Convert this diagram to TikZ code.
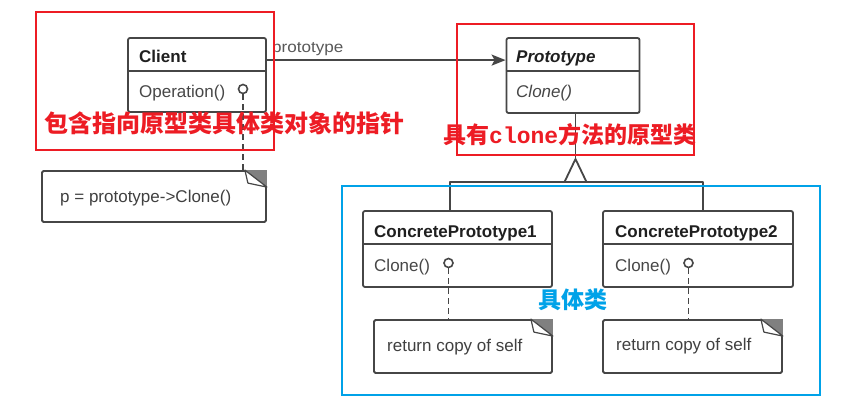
\documentclass[tikz,border=0pt]{standalone}
\usepackage{fontspec}
\usetikzlibrary{arrows.meta}
\newfontfamily\uml{Liberation Sans}
\newfontfamily\umlmono{Liberation Mono}
\newfontfamily\cjk{Noto Sans CJK SC}
\definecolor{linec}{RGB}{70,70,70}
\definecolor{annred}{RGB}{237,28,36}
\definecolor{annblue}{RGB}{0,162,232}
\newcommand\dogear[1]{%
  \fill[black!50] (#1.north east) -- ([xshift=-22pt]#1.north east) -- ([yshift=-17pt]#1.north east) -- cycle;
  \draw[linec, line width=1.2pt, fill=white, line join=round] ([xshift=-22pt]#1.north east) -- ([xshift=-19pt,yshift=-13pt]#1.north east) -- ([yshift=-17pt]#1.north east) -- cycle;
}
\begin{document}
\begin{tikzpicture}[x=1pt,y=-1pt,
  cls/.style={draw=linec, line width=1.8pt, rounded corners=2pt, inner sep=0pt, fill=white},
  clsname/.style={anchor=base west, inner sep=0pt, font=\uml\bfseries\fontsize{17}{17}\selectfont, text=black!88},
  meth/.style={anchor=base west, inner sep=0pt, font=\uml\fontsize{17}{17}\selectfont, text=black!72},
  notebox/.style={draw=linec, line width=1.8pt, rounded corners=1.5pt, inner sep=0pt, fill=white},
  notetxt/.style={anchor=base west, inner sep=0pt, font=\uml\fontsize{17}{17}\selectfont, text=black!75},
  assoclabel/.style={anchor=base west, inner sep=0pt, font=\uml\fontsize{15.5}{15.5}\selectfont, text=black!65, xscale=1.1},
  lolli/.style={circle, draw=linec, line width=1.6pt, minimum size=9pt, inner sep=0pt, fill=white},
  dep/.style={draw=linec, line width=1.8pt, dash pattern=on 6pt off 4pt},
  umlline/.style={draw=linec, line width=1.8pt},
  redbox/.style={draw=annred, line width=2.6pt, inner sep=0pt},
  bluebox/.style={draw=annblue, line width=2.6pt, inner sep=0pt},
  redlbl/.style={anchor=west, inner sep=0pt, text=annred, font=\cjk\bfseries\fontsize{24}{24}\selectfont},
  bluelbl/.style={inner sep=0pt, text=annblue, font=\cjk\bfseries\fontsize{23}{23}\selectfont}
]
\useasboundingbox (0,0) rectangle (855,401);
\fill[white] (0,0) rectangle (855,401);

% Client
\node[cls, minimum width=138pt, minimum height=74pt] (client) at (197,75) {};
\draw[umlline] ([yshift=-34pt]client.north west) -- ([yshift=-34pt]client.north east);
\node[clsname] (clientname) at (139,63) {Client};
\node[meth] (clientop) at (139,98) {Operation()};
\node[lolli] (lc) at (243,89) {};

% Prototype
\node[cls, minimum width=133pt, minimum height=75pt] (proto) at (573,75.5) {};
\draw[umlline] ([yshift=-34pt]proto.north west) -- ([yshift=-34pt]proto.north east);
\node[clsname, font=\uml\bfseries\itshape\fontsize{17}{17}\selectfont] (protoname) at (516,63) {Prototype};
\node[meth, font=\uml\itshape\fontsize{17}{17}\selectfont] (protoop) at (516,98) {Clone()};

% association
\draw[umlline, -{Stealth[length=14pt,width=11pt,inset=3pt]}] ([yshift=-23pt]client.north east) -- ([yshift=-23pt]proto.north west);
\node[assoclabel] (plabel) at (272,53) {prototype};

% Concrete prototypes
\node[cls, minimum width=189pt, minimum height=76pt] (cp1) at (457.5,249) {};
\draw[umlline] ([yshift=-34pt]cp1.north west) -- ([yshift=-34pt]cp1.north east);
\node[clsname] (cp1name) at (374,237) {ConcretePrototype1};
\node[meth] (cp1op) at (374,272) {Clone()};
\node[lolli] (l1) at (448.5,263) {};

\node[cls, minimum width=190pt, minimum height=76pt] (cp2) at (698,249) {};
\draw[umlline] ([yshift=-34pt]cp2.north west) -- ([yshift=-34pt]cp2.north east);
\node[clsname] (cp2name) at (615,237) {ConcretePrototype2};
\node[meth] (cp2op) at (615,272) {Clone()};
\node[lolli] (l2) at (688.5,263) {};

% generalization
\coordinate (apex) at (575.5,159);
\coordinate (j1) at (450,182);
\coordinate (j2) at (703,182);
\draw[umlline] ([xshift=2.5pt]proto.south) -- (apex);
\draw[umlline, line join=round] (j1 |- cp1.north) -- (j1) -- (j2) -- (j2 |- cp2.north);
\draw[umlline, fill=white, line join=round] (apex) -- (564.5,182) -- (586.5,182) -- cycle;

% notes
\node[notebox, minimum width=224pt, minimum height=51pt] (n1) at (154,196.5) {};
\dogear{n1}
\node[notetxt] (n1t) at (60,203) {p = prototype->Clone()};
\node[notebox, minimum width=178pt, minimum height=53pt] (n2) at (463,346.5) {};
\dogear{n2}
\node[notetxt] (n2t) at (387,351) {return copy of self};
\node[notebox, minimum width=179pt, minimum height=53pt] (n3) at (692.5,346.5) {};
\dogear{n3}
\node[notetxt] (n3t) at (616,350) {return copy of self};

\draw[dep] (lc.south) -- (lc.south |- n1.north);
\draw[dep] (l1.south) -- (l1.south |- n2.north);
\draw[dep] (l2.south) -- (l2.south |- n3.north);

% annotations
\node[redbox, minimum width=238pt, minimum height=138pt] (r1) at (155,81) {};
\node[redbox, minimum width=237pt, minimum height=131pt] (r2) at (575.5,89.5) {};
\node[bluebox, minimum width=478pt, minimum height=209pt] (b1) at (581,290.5) {};
\node[redlbl] (t1) at (44,123) {包含指向原型类具体类对象的指针};
\node[redlbl, font=\cjk\bfseries\fontsize{23}{23}\selectfont] (t2) at (443,135) {具有{\umlmono\bfseries clone}方法的原型类};
\node[bluelbl] (t3) at (572.5,300) {具体类};
\end{tikzpicture}
\end{document}
